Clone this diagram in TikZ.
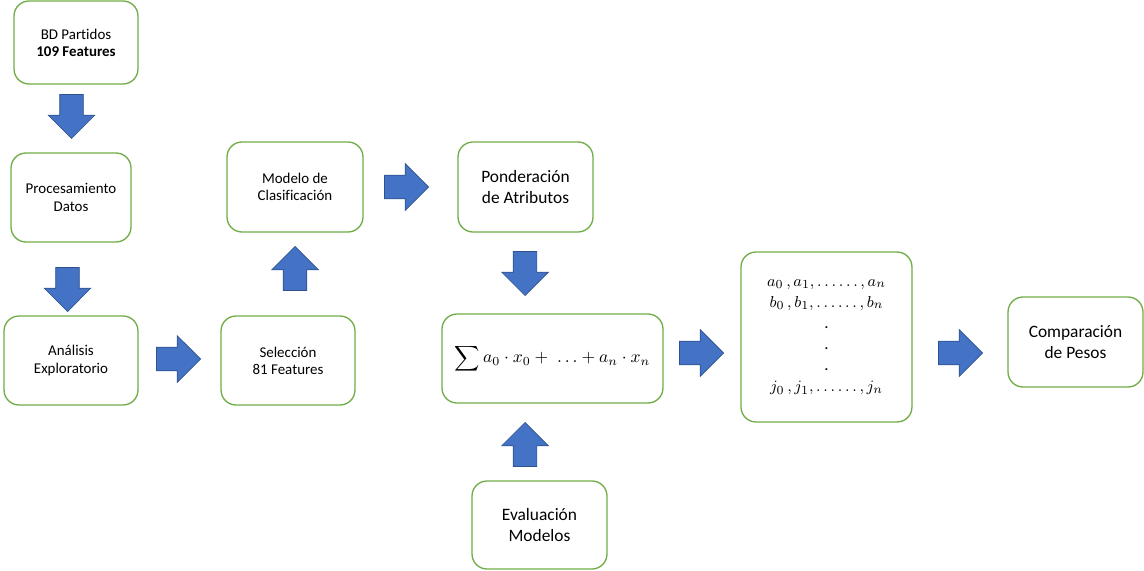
\documentclass[tikz,border=0pt]{standalone}
\usepackage{amsmath,amssymb}
\usepackage{fontspec}
\setmainfont{Carlito}[Ligatures=NoCommon]
\usepackage{tikz}
\usetikzlibrary{shapes.arrows}

\definecolor{verde}{HTML}{70AD47}
\definecolor{azul}{HTML}{4472C4}
\definecolor{azulborde}{HTML}{2F528F}

\tikzset{
  caja/.style={draw=verde, line width=0.75pt, rounded corners=0.3cm, fill=white,
    minimum width=2.7cm, minimum height=1.78cm, align=center, inner sep=2pt},
  chico/.style={font=\fontsize{8.5}{9.8}\selectfont},
  grande/.style={font=\fontsize{9.9}{12.3}\selectfont},
  flecha/.style={single arrow, draw=azulborde, fill=azul, line width=0.4pt,
    minimum height=0.88cm, single arrow head extend=0.23cm,
    single arrow head indent=0cm, inner sep=0.23cm, anchor=tip},
}

\begin{document}
\begin{tikzpicture}[x=0.02cm, y=-0.02cm]
  \useasboundingbox (0,0) rectangle (1144,571);
  % cajas
  \node [caja, chico, minimum width=2.48cm, minimum height=1.66cm] (BD) at (76, 42.5) {BD Partidos\\\textbf{109 Features}};
  \node [caja, chico, minimum width=2.40cm] (PD) at (71, 197.5) {Procesamiento\\Datos};
  \node [caja, chico, minimum width=2.68cm] (AE) at (71, 360.5) {Análisis\\Exploratorio};
  \node [caja, chico, minimum width=2.68cm] (SF) at (288, 360.5) {Selección\\81 Features};
  \node [caja, chico, minimum width=2.72cm, minimum height=1.80cm] (MC) at (295, 187) {Modelo de\\Clasificación};
  \node [caja, grande, minimum height=1.80cm] (PA) at (525.5, 187) {Ponderación\\de Atributos};
  \node [caja, minimum width=4.42cm] (SU) at (552.5, 358.5) {\fontsize{10}{12}\selectfont$\displaystyle\sum a_0\cdot x_0+\;\ldots+a_n\cdot x_n$};
  \node [caja, grande, minimum height=1.76cm] (EM) at (539.5, 525) {Evaluación\\Modelos};
  \node [caja, minimum width=3.42cm, minimum height=3.40cm, font=\fontsize{9.5}{12}\selectfont] (PE) at (826.5, 337)
    {$a_0\,,a_1,\ldots\ldots,a_n$\\$b_0\,,b_1,\ldots\ldots,b_n$\\.\\.\\.\\$j_0\,,j_1,\ldots\ldots,j_n$};
  \node [caja, grande, minimum height=1.80cm] (CP) at (1075.5, 342) {Comparación\\de Pesos};
  % flechas (puestas por la punta)
  \node [flecha, shape border rotate=270] (F1) at (71.5, 139) {};
  \node [flecha, shape border rotate=270] (F2) at (67.5, 312) {};
  \node [flecha] (F3) at (201, 359) {};
  \node [flecha, shape border rotate=90] (F4) at (295, 246) {};
  \node [flecha] (F5) at (429, 187) {};
  \node [flecha, shape border rotate=270] (F6) at (525, 296) {};
  \node [flecha, shape border rotate=90] (F7) at (525, 422) {};
  \node [flecha] (F8) at (724, 353) {};
  \node [flecha] (F9) at (983, 353) {};
\end{tikzpicture}
\end{document}
